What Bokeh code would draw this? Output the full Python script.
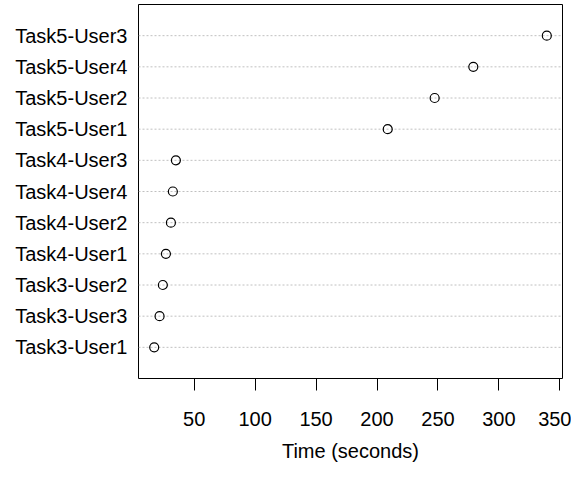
from bokeh.plotting import figure
from bokeh.models import Range1d, FixedTicker
from bokeh.embed import file_html
from bokeh.resources import INLINE

labels = ["Task3-User1", "Task3-User3", "Task3-User2", "Task4-User1", "Task4-User2",
          "Task4-User4", "Task4-User3", "Task5-User1", "Task5-User2", "Task5-User4", "Task5-User3"]
times = [17.2, 21.6, 24.3, 26.8, 30.9, 32.5, 35.0, 208.8, 247.3, 279.0, 339.3]
x_ticks = [50, 100, 150, 200, 250, 300, 350]

n = len(labels)
ypos = list(range(1, n + 1))
lo, hi = min(times), max(times)
pad = 0.04 * (hi - lo)

FONT = "Liberation Sans"
FS = "20px"

p = figure(width=571, height=464, output_backend="svg", toolbar_location=None,
           x_range=Range1d(lo - pad, hi + pad), y_range=Range1d(0, n + 1),
           min_border_left=138, min_border_right=9, min_border_top=4, min_border_bottom=83)

p.background_fill_color = "white"
p.border_fill_color = "white"
p.outline_line_color = "black"
p.outline_line_width = 1
p.xgrid.visible = False
p.ygrid.visible = False

# dotted row guides
for y in ypos:
    p.line([lo - pad, hi + pad], [y, y], line_color="#c0c0c0", line_dash="2 2", line_width=1)

p.scatter(times, ypos, marker="circle", size=9, fill_color=None, line_color="black", line_width=1.2)

xa = p.xaxis[0]
xa.ticker = FixedTicker(ticks=x_ticks)
xa.minor_tick_line_color = None
xa.major_tick_in = 0
xa.major_tick_out = 12
xa.major_tick_line_color = "black"
xa.axis_line_color = None
xa.major_label_text_font = FONT
xa.major_label_text_font_size = FS
xa.major_label_text_color = "black"
xa.major_label_standoff = 21
xa.axis_label = "Time (seconds)"
xa.axis_label_text_font = FONT
xa.axis_label_text_font_size = FS
xa.axis_label_text_font_style = "normal"
xa.axis_label_text_color = "black"
xa.axis_label_standoff = 11

ya = p.yaxis[0]
ya.ticker = FixedTicker(ticks=ypos)
ya.major_label_overrides = {y: lab for y, lab in zip(ypos, labels)}
ya.minor_tick_line_color = None
ya.major_tick_line_color = None
ya.major_tick_in = 0
ya.major_tick_out = 0
ya.axis_line_color = None
ya.major_label_text_font = FONT
ya.major_label_text_font_size = FS
ya.major_label_text_color = "black"
ya.major_label_standoff = 11

open("out.html", "w").write(file_html(p, INLINE))
